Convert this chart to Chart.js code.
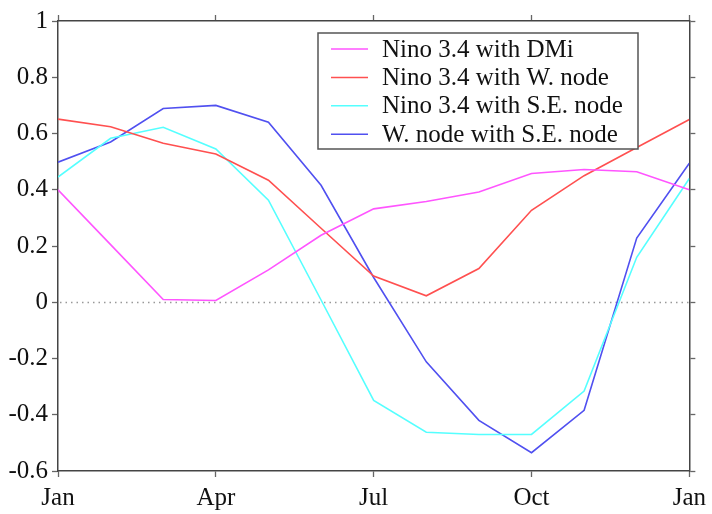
<!DOCTYPE html>
<html>
<head>
<meta charset="utf-8">
<script src="https://cdn.jsdelivr.net/npm/chart.js@4/dist/chart.umd.min.js"></script>
<style>
    body { margin: 0; background: #fff; }
    #wrap { width: 712px; height: 514px; }
</style>
</head>
<body>
<div id="wrap"><canvas id="corrChart" width="712" height="514"></canvas></div>
<script>
// Monthly correlations, Jan .. Jan
const months = ['Jan', 'Feb', 'Mar', 'Apr', 'May', 'Jun', 'Jul', 'Aug', 'Sep', 'Oct', 'Nov', 'Dec', 'Jan'];
const monthTicks = ['Jan', 'Apr', 'Jul', 'Oct', 'Jan'];

const ninoDmi = [0.40, 0.205, 0.01, 0.006, 0.115, 0.238, 0.332, 0.358, 0.392, 0.458, 0.472, 0.464, 0.40];
const ninoWNode = [0.651, 0.624, 0.565, 0.527, 0.434, 0.263, 0.093, 0.023, 0.12, 0.327, 0.45, 0.55, 0.65];
const ninoSENode = [0.445, 0.583, 0.622, 0.545, 0.363, 0.008, -0.349, -0.462, -0.47, -0.47, -0.316, 0.16, 0.44];
const wNodeSENode = [0.498, 0.57, 0.689, 0.70, 0.64, 0.416, 0.088, -0.212, -0.42, -0.535, -0.384, 0.228, 0.494];

const seriesNames = ['Nino 3.4 with DMi', 'Nino 3.4 with W. node', 'Nino 3.4 with S.E. node', 'W. node with S.E. node'];
const seriesColors = ['#ff55ff', '#ff5050', '#55ffff', '#5050f0'];

const toPoints = arr => arr.map((v, i) => ({ x: i, y: v }));
const FONT = 'Liberation Serif, Times New Roman, serif';

// dotted zero line + boxed legend inside the plot
const extras = {
    id: 'extras',
    beforeDatasetsDraw(chart) {
        const { ctx, chartArea: a, scales: { y } } = chart;
        const y0 = Math.round(y.getPixelForValue(0)) + 0.5;
        ctx.save();
        ctx.strokeStyle = '#999';
        ctx.lineWidth = 1.3;
        ctx.setLineDash([1.5, 4]);
        ctx.beginPath();
        ctx.moveTo(a.left + 2, y0);
        ctx.lineTo(a.right, y0);
        ctx.stroke();
        ctx.restore();
    },
    afterDatasetsDraw(chart) {
        const { ctx } = chart;
        const bx = 318, by = 33, bw = 320, bh = 116;
        ctx.save();
        ctx.fillStyle = '#fff';
        ctx.fillRect(bx, by, bw, bh);
        ctx.strokeStyle = '#555';
        ctx.lineWidth = 1.5;
        ctx.strokeRect(bx, by, bw, bh);
        ctx.font = '25px ' + FONT;
        ctx.textBaseline = 'middle';
        ctx.fillStyle = '#111';
        chart.data.datasets.forEach((ds, i) => {
            const ry = 49 + i * 28.4;
            ctx.strokeStyle = ds.borderColor;
            ctx.lineWidth = 1.5;
            ctx.beginPath();
            ctx.moveTo(331, ry);
            ctx.lineTo(368, ry);
            ctx.stroke();
            ctx.fillText(ds.label, 382, ry + 1);
        });
        ctx.restore();
    }
};

const axisBorder = { display: true, color: '#444', width: 1.5 };
const axisGrid = { drawOnChartArea: false, drawTicks: true, tickLength: 6, tickColor: '#666', tickWidth: 1.3 };

new Chart(document.getElementById('corrChart').getContext('2d'), {
    type: 'line',
    data: {
        datasets: [ninoDmi, ninoWNode, ninoSENode, wNodeSENode].map((arr, i) => ({
            label: seriesNames[i],
            data: toPoints(arr),
            borderColor: seriesColors[i],
            borderWidth: 1.6,
            pointRadius: 0,
            tension: 0,
            fill: false
        }))
    },
    options: {
        responsive: false,
        animation: false,
        layout: { padding: 0 },
        plugins: { legend: { display: false }, tooltip: { enabled: false } },
        scales: {
            x: {
                type: 'linear', position: 'bottom', min: 0, max: months.length - 1,
                border: axisBorder, grid: axisGrid,
                ticks: {
                    stepSize: 3, padding: 6, color: '#111', maxRotation: 0,
                    font: { family: FONT, size: 25 },
                    callback: v => monthTicks[v / 3]
                },
                afterFit: s => { s.height = 43; }
            },
            x2: {
                type: 'linear', position: 'top', min: 0, max: months.length - 1,
                border: axisBorder, grid: axisGrid,
                ticks: { display: false, stepSize: 3 },
                afterFit: s => { s.height = 21; }
            },
            y: {
                type: 'linear', position: 'left', min: -0.6, max: 1,
                border: axisBorder, grid: axisGrid,
                ticks: {
                    stepSize: 0.2, padding: 4, color: '#111',
                    font: { family: FONT, size: 25 },
                    callback: v => String(Math.round(v * 10) / 10)
                },
                afterFit: s => { s.width = 58; }
            },
            y2: {
                type: 'linear', position: 'right', min: -0.6, max: 1,
                border: axisBorder, grid: axisGrid,
                ticks: { display: false, stepSize: 0.2 },
                afterFit: s => { s.width = 21; }
            }
        }
    },
    plugins: [extras]
});
</script>
</body>
</html>
